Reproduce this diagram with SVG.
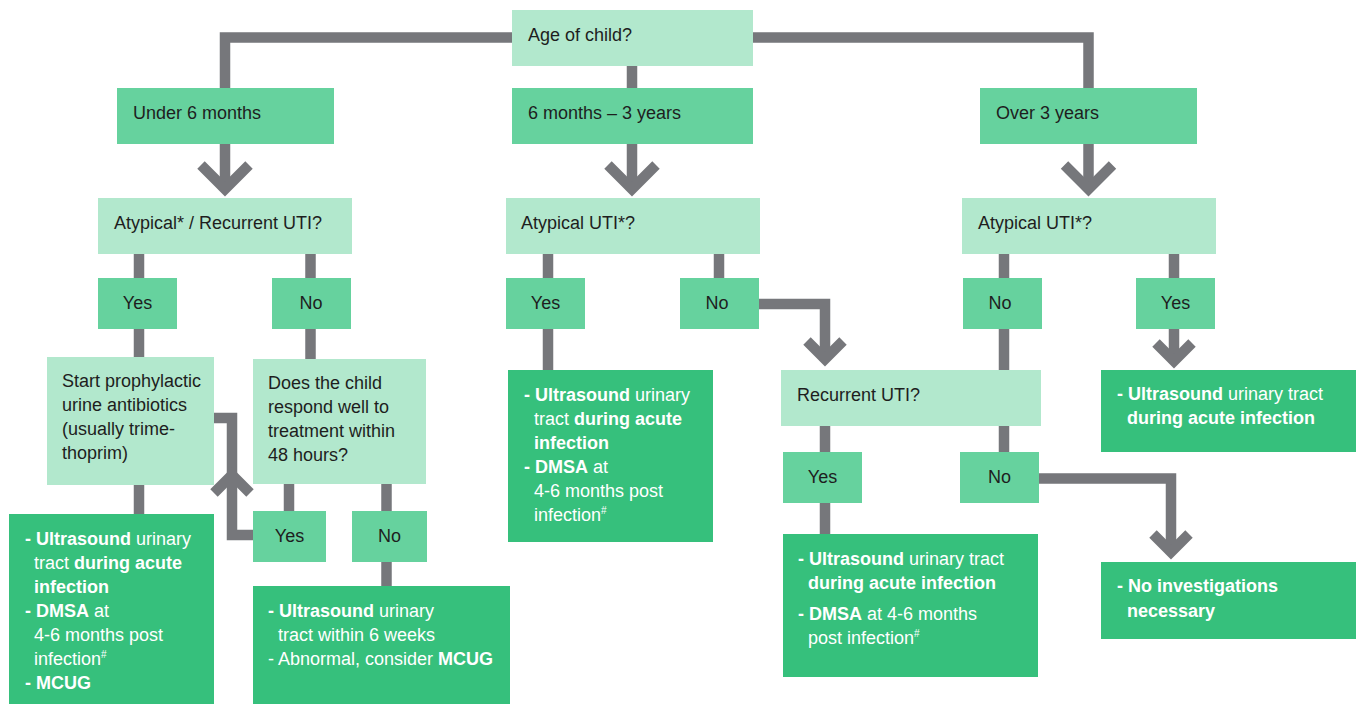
<svg xmlns="http://www.w3.org/2000/svg" width="1357" height="704" viewBox="0 0 1357 704">
<style>
.q{fill:#b2e8cd}
.a{fill:#66d29e}
.o{fill:#36c07c}
text{font-family:"Liberation Sans",Arial,sans-serif;font-size:18px}
.dk{fill:#1e1e1e}
.wt{fill:#ffffff}
.b{font-weight:bold}
.c{text-anchor:middle}
.ln{fill:none;stroke:#76777b;stroke-width:10.5;stroke-linejoin:miter;stroke-linecap:butt}
.sup{font-size:10px}
</style>
<rect width="1357" height="704" fill="#ffffff"/>
<g id="connectors" class="ln">
<path d="M512 37.5 H225 V88"/>
<path d="M753 37.5 H1088.5 V88"/>
<path d="M632 66 V88"/>
<path d="M225 144 V189"/>
<polyline points="201,165 225,189 249,165"/>
<path d="M632 144 V189"/>
<polyline points="608,165 632,189 656,165"/>
<path d="M1088.5 144 V189"/>
<polyline points="1064.5,165 1088.5,189 1112.5,165"/>
<path d="M139 254 V278"/>
<path d="M310.5 254 V278"/>
<path d="M139 329 V357"/>
<path d="M310.5 329 V359"/>
<path d="M139 485 V514"/>
<path d="M289 484 V511"/>
<path d="M386.5 484 V511"/>
<path d="M386.5 562 V586"/>
<path d="M253 535 H232 V418 H214"/>
<polyline points="214,493 232,475 250,493"/>
<path d="M548 254 V278"/>
<path d="M719 254 V278"/>
<path d="M548 329 V370"/>
<path d="M759 304 H825 V359"/>
<polyline points="807,341 825,359 843,341"/>
<path d="M825 426 V452"/>
<path d="M825 503 V534"/>
<path d="M1004 254 V278"/>
<path d="M1174 254 V278"/>
<path d="M1004 329 V370"/>
<path d="M1004 426 V452"/>
<path d="M1174 329 V361"/>
<polyline points="1156,343 1174,361 1192,343"/>
<path d="M1039 478.5 H1171 V552"/>
<polyline points="1153,534 1171,552 1189,534"/>
</g>
<g id="age"><rect class="q" x="512" y="10" width="241" height="56"/><text class="dk" x="528" y="41">Age of child?</text></g>
<g id="under6"><rect class="a" x="117" y="88" width="217" height="56"/><text class="dk" x="133" y="119">Under 6 months</text></g>
<g id="m6y3"><rect class="a" x="512" y="88" width="241" height="56"/><text class="dk" x="528" y="119">6 months – 3 years</text></g>
<g id="over3"><rect class="a" x="980" y="88" width="217" height="56"/><text class="dk" x="996" y="119">Over 3 years</text></g>
<g id="q-left"><rect class="q" x="98" y="198" width="254" height="56"/><text class="dk" x="114" y="229">Atypical* / Recurrent UTI?</text></g>
<g id="q-mid"><rect class="q" x="506" y="198" width="254" height="56"/><text class="dk" x="521" y="229">Atypical UTI*?</text></g>
<g id="q-right"><rect class="q" x="962" y="198" width="254" height="56"/><text class="dk" x="978" y="229">Atypical UTI*?</text></g>
<g id="l-yes"><rect class="a" x="98" y="278" width="79" height="51"/><text class="dk c" x="137.5" y="309">Yes</text></g>
<g id="l-no"><rect class="a" x="272" y="278" width="79" height="51"/><text class="dk c" x="311" y="309">No</text></g>
<g id="m-yes"><rect class="a" x="506" y="278" width="79" height="51"/><text class="dk c" x="545.5" y="309">Yes</text></g>
<g id="m-no"><rect class="a" x="680" y="278" width="79" height="51"/><text class="dk c" x="717" y="309">No</text></g>
<g id="r-no"><rect class="a" x="963" y="278" width="79" height="51"/><text class="dk c" x="1000" y="309">No</text></g>
<g id="r-yes"><rect class="a" x="1136" y="278" width="79" height="51"/><text class="dk c" x="1175.5" y="309">Yes</text></g>
<g id="start"><rect class="q" x="47" y="357" width="167" height="128"/>
<text class="dk" x="62" y="387">Start prophylactic</text>
<text class="dk" x="62" y="411">urine antibiotics</text>
<text class="dk" x="62" y="435">(usually trime-</text>
<text class="dk" x="62" y="459">thoprim)</text></g>
<g id="respond"><rect class="q" x="253" y="359" width="173" height="125"/>
<text class="dk" x="268" y="389">Does the child</text>
<text class="dk" x="268" y="413">respond well to</text>
<text class="dk" x="268" y="437">treatment within</text>
<text class="dk" x="268" y="461">48 hours?</text></g>
<g id="resp-yes"><rect class="a" x="253" y="511" width="73" height="51"/><text class="dk c" x="289.5" y="542">Yes</text></g>
<g id="resp-no"><rect class="a" x="352" y="511" width="75" height="51"/><text class="dk c" x="389.5" y="542">No</text></g>
<g id="out-left"><rect class="o" x="9" y="514" width="205" height="190"/>
<text class="wt" x="25" y="545"><tspan class="b">- Ultrasound</tspan> urinary</text>
<text class="wt" x="34" y="569">tract <tspan class="b">during acute</tspan></text>
<text class="wt b" x="34" y="593">infection</text>
<text class="wt" x="25" y="617"><tspan class="b">- DMSA</tspan> at</text>
<text class="wt" x="34" y="641">4-6 months post</text>
<text class="wt" x="34" y="665">infection<tspan class="sup" dy="-7">#</tspan></text>
<text class="wt b" x="25" y="689">- MCUG</text></g>
<g id="out-resp-no"><rect class="o" x="253" y="586" width="257" height="118"/>
<text class="wt" x="268" y="617"><tspan class="b">- Ultrasound</tspan> urinary</text>
<text class="wt" x="278" y="641">tract within 6 weeks</text>
<text class="wt" x="268" y="665">- Abnormal, consider <tspan class="b">MCUG</tspan></text></g>
<g id="out-mid"><rect class="o" x="508" y="370" width="205" height="172"/>
<text class="wt" x="524" y="401"><tspan class="b">- Ultrasound</tspan> urinary</text>
<text class="wt" x="534" y="425">tract <tspan class="b">during acute</tspan></text>
<text class="wt b" x="534" y="449">infection</text>
<text class="wt" x="524" y="473"><tspan class="b">- DMSA</tspan> at</text>
<text class="wt" x="534" y="497">4-6 months post</text>
<text class="wt" x="534" y="521">infection<tspan class="sup" dy="-7">#</tspan></text></g>
<g id="recurrent"><rect class="q" x="781" y="370" width="260" height="56"/><text class="dk" x="797" y="401">Recurrent UTI?</text></g>
<g id="rec-yes"><rect class="a" x="783" y="452" width="79" height="51"/><text class="dk c" x="822.5" y="483">Yes</text></g>
<g id="rec-no"><rect class="a" x="960" y="452" width="79" height="51"/><text class="dk c" x="999.5" y="483">No</text></g>
<g id="out-rec-yes"><rect class="o" x="783" y="534" width="255" height="143"/>
<text class="wt" x="798" y="565"><tspan class="b">- Ultrasound</tspan> urinary tract</text>
<text class="wt b" x="808" y="589">during acute infection</text>
<text class="wt" x="798" y="620"><tspan class="b">- DMSA</tspan> at 4-6 months</text>
<text class="wt" x="808" y="644">post infection<tspan class="sup" dy="-7">#</tspan></text></g>
<g id="out-right-yes"><rect class="o" x="1101" y="370" width="255" height="82"/>
<text class="wt" x="1117" y="400"><tspan class="b">- Ultrasound</tspan> urinary tract</text>
<text class="wt b" x="1127" y="424">during acute infection</text></g>
<g id="out-none"><rect class="o" x="1101" y="562" width="255" height="77"/>
<text class="wt b" x="1117" y="592">- No investigations</text>
<text class="wt b" x="1127" y="617">necessary</text></g>
</svg>
